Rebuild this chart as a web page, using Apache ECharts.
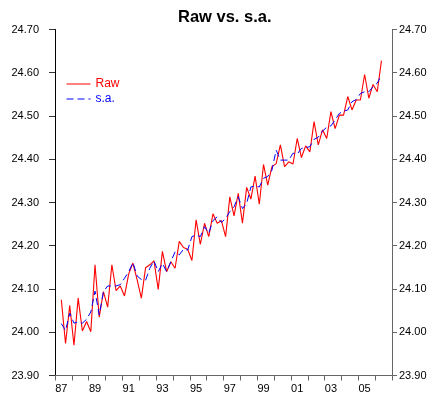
<!DOCTYPE html>
<html>
<head>
<meta charset="utf-8">
<script src="https://cdn.jsdelivr.net/npm/echarts@6/dist/echarts.min.js"></script>
<style>html,body{margin:0;padding:0;background:#fff}#c{width:434px;height:400px}</style>
</head>
<body>
<div id="c"></div>
<script>
// Quarterly categories 1987Q1 .. 2006Q4
const years = [1987,1988,1989,1990,1991,1992,1993,1994,1995,1996,1997,1998,1999,2000,2001,2002,2003,2004,2005,2006];
const quarterNames = ['Q1','Q2','Q3','Q4'];
const categories = [];
years.forEach(y => quarterNames.forEach(q => categories.push(y + q)));

// Raw series (1987Q2 .. 2006Q2)
const rawValues = [
  null,
  24.075,23.974,24.062,23.970,24.079,24.003,24.025,24.001,24.156,24.035,
  24.094,24.058,24.156,24.096,24.107,24.084,24.135,24.160,24.121,24.079,
  24.149,24.156,24.165,24.099,24.187,24.140,24.163,24.148,24.210,24.196,
  24.192,24.166,24.260,24.203,24.252,24.221,24.274,24.252,24.258,24.221,
  24.313,24.269,24.321,24.252,24.335,24.308,24.361,24.296,24.388,24.340,
  24.383,24.390,24.433,24.383,24.394,24.389,24.448,24.404,24.431,24.417,
  24.487,24.433,24.468,24.448,24.510,24.471,24.502,24.502,24.545,24.514,
  24.537,24.537,24.596,24.541,24.573,24.556,24.628,
  null,null
];

// Seasonally adjusted series
const saValues = [
  null,
  24.020,24.004,24.044,24.021,24.024,24.021,24.030,24.047,24.095,24.040,
  24.094,24.107,24.107,24.107,24.110,24.125,24.140,24.161,24.130,24.122,
  24.120,24.148,24.165,24.140,24.159,24.140,24.163,24.186,24.179,24.192,
  24.190,24.221,24.225,24.221,24.244,24.229,24.258,24.267,24.254,24.263,
  24.279,24.290,24.313,24.286,24.298,24.336,24.338,24.336,24.356,24.360,
  24.375,24.421,24.398,24.398,24.398,24.414,24.412,24.425,24.427,24.429,
  24.446,24.451,24.465,24.474,24.477,24.491,24.506,24.511,24.514,24.533,
  24.538,24.552,24.556,24.556,24.568,24.576,24.595,
  null,null
];

const yMin = 23.9, yMax = 24.7, yStep = 0.1;
const FONT = "'Liberation Sans', Arial, sans-serif";

const chart = echarts.init(document.getElementById('c'), null, {renderer: 'canvas'});
chart.setOption({
  animation: false,
  backgroundColor: '#ffffff',
  title: {
    text: 'Raw vs. s.a.',
    left: 173, top: 4,
    textStyle: {fontFamily: FONT, fontSize: 16.5, fontWeight: 'bold', color: '#000'}
  },
  legend: {
    orient: 'vertical',
    left: 61, top: 73,
    itemWidth: 24, itemHeight: 14, itemGap: 3,
    itemStyle: {opacity: 0},
    lineStyle: {width: 1},
    textStyle: {fontFamily: FONT, fontSize: 12},
    data: [
      {name: 'Raw', textStyle: {color: '#ff0000'}},
      {name: 's.a.', textStyle: {color: '#0000ff'}}
    ]
  },
  grid: {left: 55, right: 42, top: 29.5, bottom: 24.5, containLabel: false},
  xAxis: {
    type: 'category',
    data: categories,
    boundaryGap: true,
    axisLine: {show: true, lineStyle: {color: '#666', width: 1}},
    axisTick: {show: true, length: 5, interval: (i) => i % 4 === 0, lineStyle: {color: '#666'}},
    axisLabel: {
      interval: (i) => i % 8 === 1,
      formatter: (v) => v.slice(2, 4),
      fontFamily: FONT, fontSize: 11, color: '#000', margin: 8
    },
    splitLine: {show: false}
  },
  yAxis: [
    {
      type: 'value', position: 'left',
      min: yMin, max: yMax, interval: yStep,
      axisLine: {show: true, lineStyle: {color: '#000'}},
      axisTick: {show: true, length: 6, lineStyle: {color: '#333'}},
      axisLabel: {formatter: (v) => v.toFixed(2), fontFamily: FONT, fontSize: 11, color: '#000', margin: 16},
      splitLine: {show: false}
    },
    {
      type: 'value', position: 'right',
      min: yMin, max: yMax, interval: yStep,
      axisLine: {show: true, lineStyle: {color: '#666'}},
      axisTick: {show: true, length: 5, lineStyle: {color: '#666'}},
      axisLabel: {formatter: (v) => v.toFixed(2), fontFamily: FONT, fontSize: 11, color: '#000', margin: 7},
      splitLine: {show: false}
    }
  ],
  series: [
    {
      name: 'Raw', type: 'line', data: rawValues,
      yAxisIndex: 0, symbol: 'none', showSymbol: false,
      lineStyle: {color: '#ff0000', width: 1.1},
      itemStyle: {color: '#ff0000'}
    },
    {
      name: 's.a.', type: 'line', data: saValues,
      yAxisIndex: 0, symbol: 'none', showSymbol: false,
      lineStyle: {color: '#0000ff', width: 1, type: [7, 4]},
      itemStyle: {color: '#0000ff'}
    }
  ]
});
</script>
</body>
</html>
